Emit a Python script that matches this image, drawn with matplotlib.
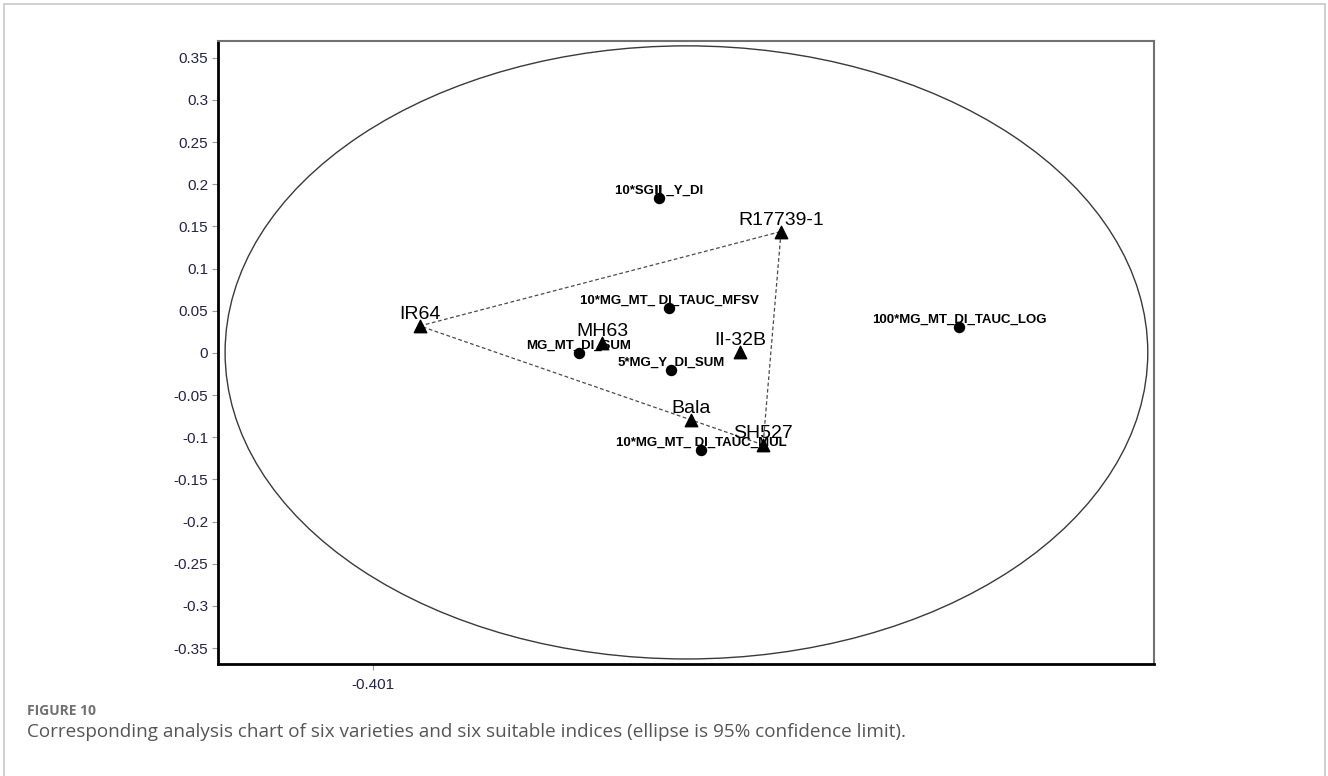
#!/usr/bin/env python3
"""Correspondence analysis chart: six varieties, six suitability indices."""

import matplotlib

matplotlib.use("Agg")
import matplotlib.pyplot as plt
import numpy as np
from matplotlib.patches import Ellipse, Rectangle

# varieties (triangles)
variety_names = ["IR64", "R17739-1", "MH63", "II-32B", "Bala", "SH527"]
variety_x = [-0.341, 0.121, -0.108, 0.069, 0.006, 0.098]
variety_y = [0.032, 0.144, 0.012, 0.001, -0.080, -0.109]

# indices (circles)
index_names = [
    "10*SG\u2161 _Y_DI",
    "10*MG_MT_ DI_TAUC_MFSV",
    "MG_MT_DI_SUM",
    "5*MG_Y_DI_SUM",
    "10*MG_MT_ DI_TAUC_MUL",
    "100*MG_MT_DI_TAUC_LOG",
]
index_x = [-0.035, -0.022, -0.138, -0.020, 0.019, 0.349]
index_y = [0.1835, 0.053, 0.000, -0.020, -0.115, 0.031]

# convex hull of the varieties
hull = ["IR64", "R17739-1", "SH527"]

# 95% confidence ellipse
ell_center = (0.0, 0.0006)
ell_half_x = 0.590
ell_half_y = 0.3636

y_ticks = [0.35, 0.3, 0.25, 0.2, 0.15, 0.1, 0.05, 0, -0.05, -0.1, -0.15,
           -0.2, -0.25, -0.3, -0.35]
x_ticks = [-0.401]

TICK_COLOR = "#25214a"
ARIAL = ["Liberation Sans", "DejaVu Sans"]

fig = plt.figure(figsize=(13.28, 7.76), dpi=100)
fig.patches.append(Rectangle((4 / 1328, -0.05), 1321 / 1328, 1.0 - 4 / 776 + 0.05,
                             transform=fig.transFigure, fill=False,
                             edgecolor="#c8c8c8", linewidth=1.2))
ax = fig.add_axes([0.1642, 0.1443, 0.7048, 0.8029])

ax.set_xlim(-0.599, 0.598)
ax.set_ylim(-0.369, 0.370)

ax.add_patch(Ellipse(ell_center, 2 * ell_half_x, 2 * ell_half_y, fill=False,
                     edgecolor="#3a3a3a", linewidth=1.0))

hx = [variety_x[variety_names.index(n)] for n in hull] + [variety_x[variety_names.index(hull[0])]]
hy = [variety_y[variety_names.index(n)] for n in hull] + [variety_y[variety_names.index(hull[0])]]
ax.plot(hx, hy, color="#4a4a4a", linewidth=0.9, linestyle=(0, (3, 2)), zorder=2)

ax.scatter(index_x, index_y, s=52, marker="o", color="black", zorder=3)
ax.scatter(variety_x, variety_y, s=80, marker="^", color="black", zorder=3)

for name, x, y in zip(variety_names, variety_x, variety_y):
    ax.annotate(name, (x, y), xytext=(0, 5), textcoords="offset points",
                ha="center", va="baseline", fontsize=14,
                family=ARIAL, color="black", zorder=4)

for name, x, y in zip(index_names, index_x, index_y):
    ax.annotate(name, (x, y), xytext=(0, 3), textcoords="offset points",
                ha="center", va="baseline", fontsize=9.5, fontweight="bold",
                family=ARIAL, color="black", zorder=4)

ax.set_yticks(y_ticks)
ax.set_yticklabels([f"{t:g}" for t in y_ticks])
ax.set_xticks(x_ticks)
ax.set_xticklabels([f"{t:g}" for t in x_ticks])
ax.tick_params(axis="both", length=4, width=0.8, color="#9a9a9a",
               labelsize=11, labelcolor=TICK_COLOR, pad=3)
for lab in ax.get_xticklabels() + ax.get_yticklabels():
    lab.set_family(ARIAL)
ax.tick_params(axis="x", pad=6)

ax.spines["left"].set_linewidth(2.0)
ax.spines["bottom"].set_linewidth(2.0)
ax.spines["left"].set_color("black")
ax.spines["bottom"].set_color("black")
ax.spines["top"].set_linewidth(1.5)
ax.spines["right"].set_linewidth(1.5)
ax.spines["top"].set_color("#707070")
ax.spines["right"].set_color("#707070")

fig.text(27 / 1328, 1 - 711 / 776, "FIGURE 10", fontsize=10, fontweight="bold",
         color="#707070", family=["Open Sans", "DejaVu Sans"], va="center", ha="left")
fig.text(27 / 1328, 1 - 732 / 776,
         "Corresponding analysis chart of six varieties and six suitable indices "
         "(ellipse is 95% confidence limit).",
         fontsize=13.6, color="#555555", family=["Open Sans", "DejaVu Sans"],
         va="center", ha="left")

fig.savefig("out.png", dpi=100)
